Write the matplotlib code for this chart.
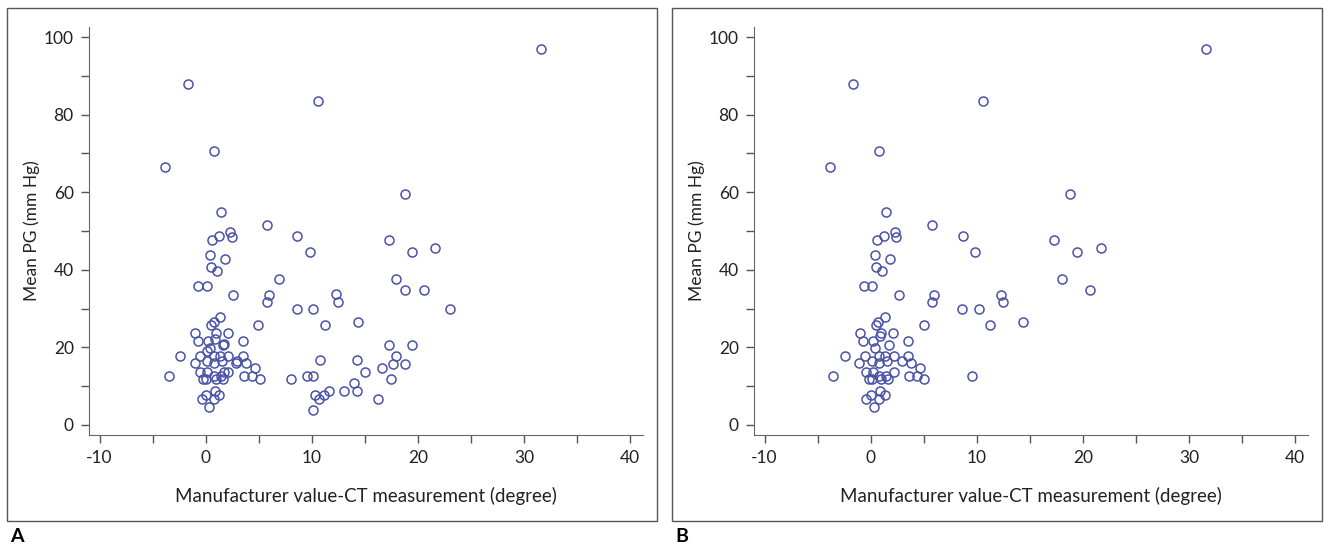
import matplotlib as mpl
mpl.use('Agg')
import matplotlib.pyplot as plt
from matplotlib.patches import Rectangle

# panel A: all cases
a_x = [31.6, -1.7, 10.6, -3.8, 0.8, 18.8,
       1.4, 5.8, 8.6, 1.25, 0.6, 2.25, 2.45, 0.4, 1.8, 0.47, 1.06, -0.7, 0.1, 6.9,
       2.6, 6.0, 5.75, 8.6, 1.3, 0.75, 0.5, 4.9, -1.0, 0.97, 2.1, -0.75, 0.25, 0.9,
       3.5, 1.7, 1.6, 0.4, 0.15, -2.4, -0.5, 0.75, 1.3, 2.1, 3.5, -1.0, 0.1, 0.8,
       1.5, 2.9, 3.75, 2.85, 4.6, -3.5, -0.5, 0.1, 2.1, 1.7, -0.25, 0.06, 0.75,
       1.0, 1.4, 1.6, 3.6, 4.4, 5.1, 8.0, -0.35, 0.06, 0.85, 1.25, 0.8, 0.35,
       9.8, 17.3, 19.4, 21.6, 17.9, 18.8, 20.6, 12.25, 12.5, 10.15, 23.0, 11.25,
       14.3, 17.3, 19.4, 10.8, 14.25, 17.9, 17.6, 18.8, 16.6, 15.0, 17.5, 9.5,
       10.1, 14.0, 14.25, 13.0, 11.6, 11.1, 10.7, 10.3, 16.25, 10.06]
a_y = [97.0, 88.0, 83.6, 66.5, 70.7, 59.6,
       54.8, 51.6, 48.6, 48.7, 47.7, 49.7, 48.5, 43.8, 42.7, 40.8, 39.8, 35.7, 35.7, 37.6,
       33.6, 33.6, 31.7, 29.8, 27.7, 26.6, 25.7, 25.8, 23.6, 23.6, 23.6, 21.6, 21.6, 22.1,
       21.7, 20.9, 20.5, 19.8, 19.0, 17.8, 17.8, 17.8, 17.8, 17.8, 17.8, 15.9, 16.6, 15.9,
       16.6, 16.6, 15.9, 15.9, 14.8, 12.6, 13.7, 13.7, 13.7, 13.7, 11.8, 11.8, 12.6,
       11.8, 12.6, 11.8, 12.6, 12.6, 11.8, 11.8, 6.7, 7.7, 8.8, 7.7, 6.7, 4.7,
       44.7, 47.8, 44.7, 45.6, 37.6, 34.7, 34.7, 33.7, 31.7, 29.8, 29.8, 25.8,
       26.5, 20.7, 20.7, 16.7, 16.7, 17.7, 15.8, 15.8, 14.7, 13.7, 11.8, 12.6,
       12.6, 10.7, 8.7, 8.7, 8.7, 7.7, 6.7, 7.7, 6.7, 3.8]

# panel B: subset
b_x = [31.6, -1.7, 10.6, -3.8, 0.8, 18.8,
       1.4, 5.8, 8.7, 1.25, 0.6, 2.25, 2.4, 0.4, 1.8, 0.5, 1.1, -0.66, 0.1, 2.7,
       6.0, 5.75, 8.6, 1.35, 0.7, 0.45, 5.0, -1.0, 1.0, 2.1, -0.7, 0.25, 0.9, 3.5,
       1.75, 0.4, -2.45, -0.5, 0.75, 1.3, 2.15, 3.5, -1.07, 0.15, 0.8, 1.5, 2.9,
       3.8, 4.6, -3.55, -0.45, 0.2, 2.15, -0.2, 0.1, 0.75, 1.0, 1.45, 1.6, 3.6,
       4.4, 5.05, -0.4, 0.03, 0.9, 1.3, 0.8, 0.3,
       9.8, 17.3, 19.4, 21.7, 18.0, 20.7, 12.25, 12.5, 10.2, 11.25, 14.35, 9.5]
b_y = [97.0, 88.0, 83.6, 66.5, 70.7, 59.6,
       54.8, 51.6, 48.6, 48.6, 47.7, 49.7, 48.5, 43.8, 42.7, 40.8, 39.8, 35.7, 35.7, 33.6,
       33.6, 31.7, 29.8, 27.7, 26.6, 25.7, 25.8, 23.6, 23.6, 23.6, 21.6, 21.6, 22.8, 21.7,
       20.7, 19.8, 17.8, 17.8, 17.8, 17.8, 17.8, 17.8, 15.9, 16.6, 15.9, 16.6, 16.6,
       15.9, 14.8, 12.6, 13.7, 13.7, 13.7, 11.8, 11.8, 12.6, 11.8, 12.6, 11.8, 12.6,
       12.6, 11.8, 6.7, 7.7, 8.8, 7.7, 6.7, 4.7,
       44.7, 47.8, 44.7, 45.6, 37.6, 34.7, 33.6, 31.7, 29.8, 25.8, 26.5, 12.6]

xticks = [-10, 0, 10, 20, 30, 40]
yticks = [0, 20, 40, 60, 80, 100]

plt.rcParams['font.family'] = ['Lato', 'DejaVu Sans']
plt.rcParams['axes.unicode_minus'] = False
col = '#4a52a8'

fig = plt.figure(figsize=(13.28, 5.47), dpi=100)

W, H = 1328, 547
panels = [(a_x, a_y, 89, 7, 'A'), (b_x, b_y, 754, 672, 'B')]
for xs, ys, left, frame_left, letter in panels:
    ax = fig.add_axes([left / W, (H - 435) / H, 554 / W, 408 / H])
    ax.plot(xs, ys, 'o', mfc='none', mec=col, ms=6.5, mew=1.1)
    ax.set_xlim(-11, 41.2)
    ax.set_ylim(-2.6, 102.6)
    ax.set_xticks(xticks)
    ax.set_xticks([-5, 5, 15, 25, 35], minor=True)
    ax.set_yticks(yticks)
    ax.set_yticks([10, 30, 50, 70, 90], minor=True)
    ax.tick_params(which='both', direction='out', length=6, width=1, color='#555',
                   labelsize=12.5, labelcolor='#222', pad=5)
    ax.spines['top'].set_visible(False)
    ax.spines['right'].set_visible(False)
    for s in ['left', 'bottom']:
        ax.spines[s].set_color('#666')
    ax.set_xlabel('Manufacturer value-CT measurement (degree)', fontsize=13.5,
                  labelpad=15, color='#222')
    ax.set_ylabel('Mean PG (mm Hg)', fontsize=12.5, labelpad=3, color='#222')
    fig.patches.append(Rectangle((frame_left / W, (H - 521) / H), 650 / W, 513 / H,
                                 transform=fig.transFigure, fill=False, ec='#555', lw=1))
    fig.text((frame_left + 3) / W, (H - 536) / H, letter, fontsize=14, fontweight='bold', va='center')

fig.savefig('out.png')
